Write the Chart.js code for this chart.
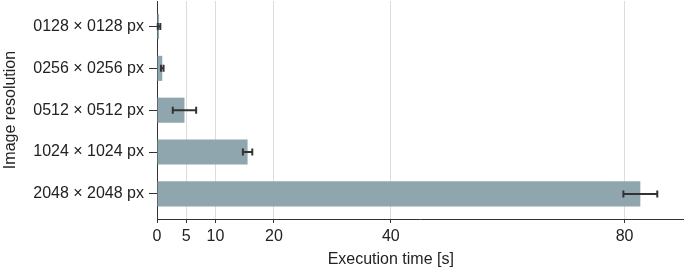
<!DOCTYPE html>
<html>
<head>
<meta charset="utf-8">
<script src="https://cdn.jsdelivr.net/npm/chart.js@4"></script>
<style>
  html, body { margin: 0; padding: 0; background: #fff; }
  #wrap { width: 685px; height: 268px; }
</style>
</head>
<body>
<div id="wrap"><canvas id="timeChart" width="685" height="268"></canvas></div>
<script>
// Data
const categories = ["0128 × 0128 px", "0256 × 0256 px", "0512 × 0512 px", "1024 × 1024 px", "2048 × 2048 px"];
const times = [0.35, 0.9, 4.7, 15.5, 82.7];
const errors = [0.22, 0.22, 2.0, 0.8, 2.9];
const xTicks = [0, 5, 10, 20, 40, 80];

const FONT = "'Liberation Sans', Arial, Helvetica, sans-serif";

// Error bars drawn through the chart scales
const errorBars = {
  id: "errorBars",
  afterDatasetsDraw(chart) {
    const { ctx, scales: { x, y } } = chart;
    ctx.save();
    ctx.strokeStyle = "#333";
    ctx.lineWidth = 2;
    times.forEach((t, i) => {
      const yc = y.getPixelForValue(i);
      const x0 = x.getPixelForValue(t - errors[i]);
      const x1 = x.getPixelForValue(t + errors[i]);
      ctx.beginPath();
      ctx.moveTo(x0, yc); ctx.lineTo(x1, yc);
      ctx.moveTo(x0, yc - 3.5); ctx.lineTo(x0, yc + 3.5);
      ctx.moveTo(x1, yc - 3.5); ctx.lineTo(x1, yc + 3.5);
      ctx.stroke();
    });
    ctx.restore();
  }
};

// x axis title, placed a bit left of centre like the reference
const xTitle = {
  id: "xTitle",
  afterDraw(chart) {
    const { ctx, scales: { x } } = chart;
    ctx.save();
    ctx.font = "16px " + FONT;
    ctx.fillStyle = "#222";
    ctx.textAlign = "center";
    ctx.textBaseline = "middle";
    ctx.fillText("Execution time [s]", x.getPixelForValue(40), 260);
    ctx.restore();
  }
};

new Chart(document.getElementById("timeChart"), {
  type: "bar",
  data: {
    datasets: [{
      data: times.map((t, i) => ({ x: t, y: i })),
      backgroundColor: "rgb(143,166,174)",
      borderWidth: 0,
      barPercentage: 0.6,
      categoryPercentage: 1
    }]
  },
  options: {
    indexAxis: "y",
    responsive: false,
    animation: false,
    layout: { padding: { left: 0, right: 2, top: 1, bottom: 0 } },
    plugins: {
      legend: { display: false },
      tooltip: { enabled: false }
    },
    scales: {
      x: {
        type: "linear",
        min: 0,
        max: 90,
        afterBuildTicks: s => { s.ticks = xTicks.map(v => ({ value: v })); },
        afterFit: s => { s.height = 49; },
        ticks: {
          color: "#222",
          font: { family: FONT, size: 16 },
          padding: 4,
          maxRotation: 0
        },
        grid: {
          color: ctx => (ctx.tick && ctx.tick.value === 0) ? "rgba(0,0,0,0)" : "#dcdcdc",
          tickColor: "#333",
          tickLength: 4,
          lineWidth: 1
        },
        border: { display: true, color: "#333", width: 1 }
      },
      y: {
        type: "linear",
        reverse: true,
        offset: false,
        bounds: "data",
        min: -0.61,
        max: 4.6,
        afterBuildTicks: s => { s.ticks = categories.map((c, i) => ({ value: i })); },
        afterFit: s => { s.width = 157; s.paddingTop = 0; s.paddingBottom = 0; },
        ticks: {
          color: "#222",
          font: { family: FONT, size: 16 },
          padding: 5,
          callback: v => categories[v]
        },
        grid: {
          offset: false,
          drawOnChartArea: false,
          tickColor: "#333",
          tickLength: 8
        },
        border: { display: true, color: "#333", width: 1 },
        title: {
          display: true,
          text: "Image resolution",
          color: "#222",
          font: { family: FONT, size: 16 },
          padding: { top: 1, bottom: 0 }
        }
      }
    }
  },
  plugins: [errorBars, xTitle]
});
</script>
</body>
</html>
